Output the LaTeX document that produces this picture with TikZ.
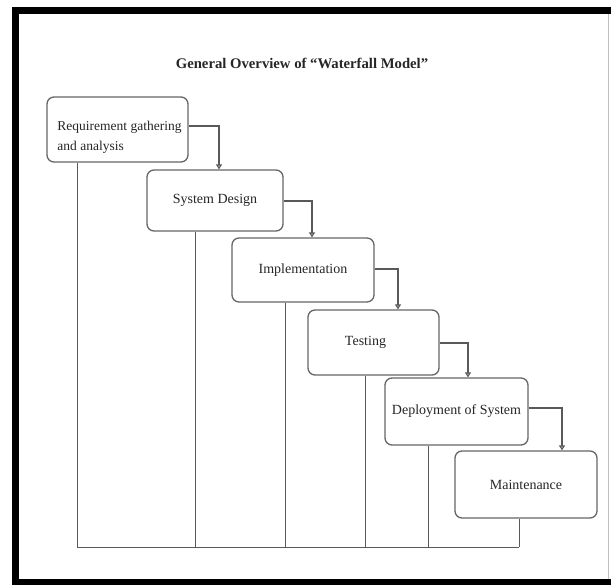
\documentclass[tikz,border=0pt]{standalone}
\usepackage{fontspec}
\setmainfont{Liberation Serif}
\usetikzlibrary{arrows.meta}
\tikzset{
  phase/.style={draw=black!60,line width=1.3pt,rounded corners=7pt,fill=white,text=black!85,
    font=\fontsize{14}{20}\selectfont},
  flow/.style={draw=black!65,line width=1.2pt,-{Triangle[open,length=5pt,width=6pt]}},
  drop/.style={draw=black!65,line width=1pt},
}
\begin{document}
\begin{tikzpicture}[x=1pt,y=-1pt]
\useasboundingbox (0,0) rectangle (611,585);
% frame
\draw[line width=7pt] (15,585) -- (15,10.5) -- (611,10.5);
\draw[line width=6pt] (12,582) -- (611,582);
\draw[black!25,line width=0.8pt] (608,14) -- (608,579);
% title
\node[font=\bfseries\fontsize{14.7}{17}\selectfont,text=black!85] (T) at (302,63) {General Overview of “Waterfall Model”};
% phases
\node[phase,font=\fontsize{13.5}{20}\selectfont,minimum width=141pt,minimum height=65pt,inner xsep=0pt,align=left] (R) at (117.5,129.5) {\rule{0pt}{24pt}\hspace*{4pt}Requirement gathering\\\hspace*{4pt}and analysis};
\node[phase,minimum width=136pt,minimum height=61pt] (S) at (215,200.5) {System Design};
\node[phase,minimum width=142pt,minimum height=64pt] (I) at (303,270) {Implementation};
\node[phase,minimum width=131pt,minimum height=65pt] (E) at (373.5,342.5) {Testing\hspace*{16pt}};
\node[phase,minimum width=143pt,minimum height=67pt] (D) at (456.5,411.5) {Deployment of System};
\node[phase,minimum width=142pt,minimum height=67pt] (M) at (526,484.5) {Maintenance};
% steps down
\coordinate (k1) at (219,126);
\coordinate (k2) at (312,201);
\coordinate (k3) at (398,269);
\coordinate (k4) at (468,343);
\coordinate (k5) at (562,408);
\draw[flow] (R.east |- k1) -- (k1) -- (S.north -| k1);
\draw[flow] (S.east |- k2) -- (k2) -- (I.north -| k2);
\draw[flow] (I.east |- k3) -- (k3) -- (E.north -| k3);
\draw[flow] (E.east |- k4) -- (k4) -- (D.north -| k4);
\draw[flow] (D.east |- k5) -- (k5) -- (M.north -| k5);
% return lines
\coordinate (d1) at (77,547);
\coordinate (d2) at (195,547);
\coordinate (d3) at (285,547);
\coordinate (d4) at (365,547);
\coordinate (d5) at (428,547);
\coordinate (d6) at (519,547);
\draw[drop] (R.south -| d1) -- (d1);
\draw[drop] (S.south -| d2) -- (d2);
\draw[drop] (I.south -| d3) -- (d3);
\draw[drop] (E.south -| d4) -- (d4);
\draw[drop] (D.south -| d5) -- (d5);
\draw[drop] (M.south -| d6) -- (d6);
\draw[drop] (d1) -- (d6);
\end{tikzpicture}
\end{document}
